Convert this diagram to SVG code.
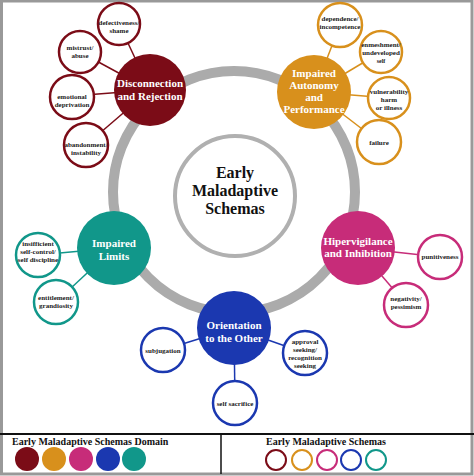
<svg xmlns="http://www.w3.org/2000/svg" width="474" height="476" viewBox="0 0 474 476">
<style>
.dom text{font-family:"Liberation Serif","Times New Roman",serif;font-weight:bold;font-size:11px;fill:#fff;text-anchor:middle}
.sat text{font-family:"Liberation Serif","Times New Roman",serif;font-weight:bold;font-size:7px;fill:#222;text-anchor:middle}
.sat circle{fill:#fff;stroke-width:2.5}
.lg{font-family:"Liberation Serif","Times New Roman",serif;font-weight:bold;font-size:10px;fill:#111}
.r{stroke:#7b0c17}.g{stroke:#d8901c}.m{stroke:#c72c79}.b{stroke:#1b38b0}.t{stroke:#11978a}
</style>
<rect x="0" y="0" width="474" height="476" fill="#fff"/>
<rect x="1.5" y="1" width="470.5" height="473" fill="none" stroke="#999" stroke-width="3"/>
<circle cx="234" cy="192" r="121" fill="none" stroke="#ababab" stroke-width="10"/>
<g id="center">
<circle cx="235" cy="196" r="60" fill="#fff" stroke="#b0b0b0" stroke-width="4"/>
<text font-family="Liberation Serif, Times New Roman, serif" font-weight="bold" font-size="16" text-anchor="middle" fill="#111"><tspan x="235" y="178">Early</tspan><tspan x="235" y="196">Maladaptive</tspan><tspan x="235" y="214">Schemas</tspan></text>
</g>
<g id="connectors" stroke-width="1.5">
<line class="r" x1="150" y1="90" x2="119" y2="24"/>
<line class="r" x1="150" y1="90" x2="80" y2="52"/>
<line class="r" x1="150" y1="90" x2="72" y2="96"/>
<line class="r" x1="150" y1="90" x2="86" y2="145"/>
<line class="g" x1="314" y1="92" x2="340" y2="25"/>
<line class="g" x1="314" y1="92" x2="381" y2="52"/>
<line class="g" x1="314" y1="92" x2="389" y2="98"/>
<line class="g" x1="314" y1="92" x2="379" y2="142"/>
<line class="t" x1="114" y1="248" x2="38" y2="255"/>
<line class="t" x1="114" y1="248" x2="56" y2="302"/>
<line class="m" x1="358" y1="248" x2="440" y2="257"/>
<line class="m" x1="358" y1="248" x2="406" y2="304"/>
<line class="b" x1="234" y1="328" x2="163" y2="350"/>
<line class="b" x1="234" y1="328" x2="305" y2="353"/>
<line class="b" x1="234" y1="328" x2="235" y2="403"/>
</g>
<g id="dom-disconnection" class="dom"><circle cx="150" cy="90" r="36" fill="#7b0c17"/><text><tspan x="150" y="87">Disconnection</tspan><tspan x="150" y="100">and Rejection</tspan></text></g>
<g id="dom-autonomy" class="dom"><circle cx="314" cy="92" r="37" fill="#d8901c"/><text><tspan x="314" y="77">Impaired</tspan><tspan x="314" y="89">Autonomy</tspan><tspan x="314" y="101">and</tspan><tspan x="314" y="113">Performance</tspan></text></g>
<g id="dom-limits" class="dom"><circle cx="114" cy="248" r="37" fill="#11978a"/><text><tspan x="114" y="247">Impaired</tspan><tspan x="114" y="260">Limits</tspan></text></g>
<g id="dom-hipervigilance" class="dom"><circle cx="358" cy="248" r="37" fill="#c72c79"/><text><tspan x="358" y="245">Hipervigilance</tspan><tspan x="358" y="257">and Inhibition</tspan></text></g>
<g id="dom-orientation" class="dom"><circle cx="234" cy="328" r="37" fill="#1b38b0"/><text><tspan x="234" y="329">Orientation</tspan><tspan x="234" y="342">to the Other</tspan></text></g>
<g id="s-defectiveness" class="sat"><circle class="r" cx="119" cy="24" r="21"/><text><tspan x="119" y="25">defectiveness/</tspan><tspan x="119" y="33">shame</tspan></text></g>
<g id="s-mistrust" class="sat"><circle class="r" cx="80" cy="52" r="21"/><text><tspan x="80" y="50">mistrust/</tspan><tspan x="80" y="58">abuse</tspan></text></g>
<g id="s-emotional" class="sat"><circle class="r" cx="72" cy="97" r="22"/><text><tspan x="72" y="99">emotional</tspan><tspan x="72" y="107">deprivation</tspan></text></g>
<g id="s-abandonment" class="sat"><circle class="r" cx="86" cy="145" r="22"/><text><tspan x="86" y="147">abandonment/</tspan><tspan x="86" y="155">instability</tspan></text></g>
<g id="s-dependence" class="sat"><circle class="g" cx="340" cy="25" r="22"/><text><tspan x="340" y="21">dependence/</tspan><tspan x="340" y="29">incompetence</tspan></text></g>
<g id="s-enmeshment" class="sat"><circle class="g" cx="381" cy="52" r="21"/><text><tspan x="381" y="47">enmeshment/</tspan><tspan x="381" y="55">undeveloped</tspan><tspan x="381" y="62.5" font-size="6">self</tspan></text></g>
<g id="s-vulnerability" class="sat"><circle class="g" cx="389" cy="98" r="21"/><text><tspan x="389" y="94">vulnerability</tspan><tspan x="389" y="102">harm</tspan><tspan x="389" y="110">or illness</tspan></text></g>
<g id="s-failure" class="sat"><circle class="g" cx="379" cy="142" r="22"/><text><tspan x="379" y="145">failure</tspan></text></g>
<g id="s-insufficient" class="sat"><circle class="t" cx="38" cy="255" r="22"/><text><tspan x="38" y="246">insifficient</tspan><tspan x="38" y="254">self-control/</tspan><tspan x="38" y="262">self discipline</tspan></text></g>
<g id="s-entitlement" class="sat"><circle class="t" cx="56" cy="302" r="22"/><text><tspan x="56" y="300">entitlement/</tspan><tspan x="56" y="308">grandiosity</tspan></text></g>
<g id="s-punitiveness" class="sat"><circle class="m" cx="440" cy="257" r="22"/><text><tspan x="440" y="259">punitiveness</tspan></text></g>
<g id="s-negativity" class="sat"><circle class="m" cx="406" cy="305" r="22"/><text><tspan x="406" y="301">negativity/</tspan><tspan x="406" y="309">pessimism</tspan></text></g>
<g id="s-subjugation" class="sat"><circle class="b" cx="163" cy="350" r="22"/><text><tspan x="163" y="353">subjugation</tspan></text></g>
<g id="s-approval" class="sat"><circle class="b" cx="305" cy="353" r="22"/><text><tspan x="305" y="344">approval</tspan><tspan x="305" y="352">seeking/</tspan><tspan x="305" y="360">recognition</tspan><tspan x="305" y="368">seeking</tspan></text></g>
<g id="s-selfsacrifice" class="sat"><circle class="b" cx="235" cy="403" r="22"/><text><tspan x="235" y="406">self sacrifice</tspan></text></g>
<g id="legend">
<line x1="0" y1="434" x2="474" y2="434" stroke="#111" stroke-width="2"/>
<line x1="221" y1="434" x2="221" y2="474" stroke="#111" stroke-width="1.5"/>
<text class="lg" x="12" y="445">Early Maladaptive Schemas Domain</text>
<circle cx="27" cy="459" r="12" fill="#7b0c17"/>
<circle cx="54" cy="459" r="12" fill="#d8901c"/>
<circle cx="81" cy="459" r="12" fill="#c72c79"/>
<circle cx="108" cy="459" r="12" fill="#1b38b0"/>
<circle cx="134" cy="459" r="12" fill="#11978a"/>
<text class="lg" x="266" y="445">Early Maladaptive Schemas</text>
<g fill="none" stroke-width="2">
<circle class="r" cx="276" cy="460" r="10"/>
<circle class="g" cx="302" cy="460" r="10"/>
<circle class="m" cx="327" cy="460" r="10"/>
<circle class="b" cx="351" cy="460" r="10"/>
<circle class="t" cx="376" cy="460" r="10"/>
</g>
</g>
</svg>
